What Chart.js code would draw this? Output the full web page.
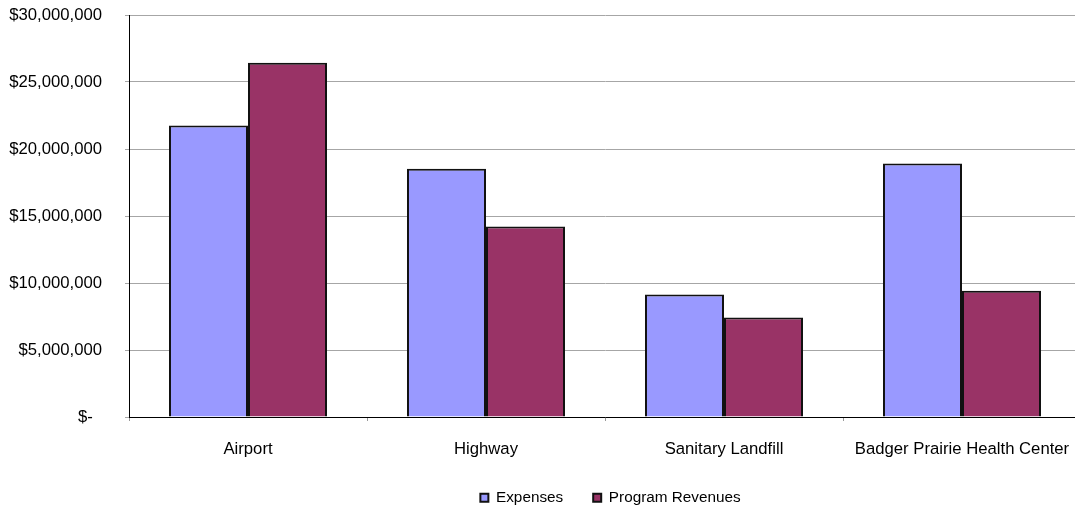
<!DOCTYPE html>
<html>
<head>
<meta charset="utf-8">
<script src="https://cdn.jsdelivr.net/npm/chart.js@4/dist/chart.umd.min.js"></script>
<style>
  html, body { margin: 0; padding: 0; background: #fff; overflow: hidden; }
  #wrap { width: 1081px; height: 510px; position: relative; }
  canvas { display: block; width: 1081px; height: 510px; }
</style>
</head>
<body>
<div id="wrap"><canvas id="c" width="1081" height="510"></canvas></div>
<script>
// Enterprise fund comparison: expenses vs. program revenues
const categories = ['Airport', 'Highway', 'Sanitary Landfill', 'Badger Prairie Health Center'];
const expenses = [21750000, 18530000, 9140000, 18910000];
const programRevenues = [26430000, 14220000, 7420000, 9420000];
const yTickLabels = ['$-  ', '$5,000,000', '$10,000,000', '$15,000,000', '$20,000,000', '$25,000,000', '$30,000,000'];

const FONT = "'Liberation Sans', Arial, Helvetica, sans-serif";

// Keep the legend band compact, center it under the plot area
const legendShift = {
  id: 'legendShift',
  beforeLayout(chart) {
    const lg = chart.legend;
    if (lg && !lg._compactFit) {
      const fit = lg.fit.bind(lg);
      lg.fit = function () { fit(); this.height = 43; };
      lg._compactFit = true;
    }
  },
  afterLayout(chart) {
    const lg = chart.legend;
    const dx = 70, dy = -5;
    lg.left += dx;
    lg.right += dx;
    lg.width = lg.right - lg.left;
    lg.top += dy;
    lg.bottom = chart.height;
    lg.height = lg.bottom - lg.top;
  }
};

new Chart(document.getElementById('c'), {
  type: 'bar',
  data: {
    labels: categories,
    datasets: [
      {
        label: 'Expenses',
        data: expenses,
        backgroundColor: '#9999FF',
        borderColor: '#111111',
        borderWidth: 2
      },
      {
        label: 'Program Revenues',
        data: programRevenues,
        backgroundColor: '#993366',
        borderColor: '#111111',
        borderWidth: 2
      }
    ]
  },
  options: {
    responsive: false,
    devicePixelRatio: 1,
    animation: false,
    layout: { padding: { top: 15, right: 0, bottom: 2, left: 0 } },
    datasets: { bar: { categoryPercentage: 0.664, barPercentage: 1.0 } },
    scales: {
      x: {
        offset: true,
        grid: {
          offset: true,
          drawOnChartArea: false,
          drawTicks: true,
          tickLength: 4,
          color: '#999999'
        },
        border: { display: true, color: '#000000', width: 1 },
        ticks: {
          padding: 18,
          color: '#000000',
          font: { family: FONT, size: 16.7 },
          maxRotation: 0,
          autoSkip: false
        },
        afterFit(scale) {
          scale.height = 48;
          scale.paddingLeft = 0;
          scale.paddingRight = 0;
        }
      },
      y: {
        min: 0,
        max: 30000000,
        grid: {
          color: '#A6A6A6',
          lineWidth: 1,
          tickLength: 4,
          drawTicks: true
        },
        border: { display: true, color: '#000000', width: 1 },
        ticks: {
          stepSize: 5000000,
          padding: 23,
          color: '#000000',
          font: { family: FONT, size: 16.7 },
          callback: (v, i) => yTickLabels[i]
        },
        afterFit(scale) {
          scale.width = 129;
          scale.paddingTop = 0;
          scale.paddingBottom = 0;
        }
      }
    },
    plugins: {
      legend: {
        position: 'bottom',
        labels: {
          boxWidth: 8,
          boxHeight: 8,
          padding: 30,
          color: '#000000',
          font: { family: FONT, size: 15.3 }
        }
      },
      tooltip: { enabled: false },
      title: { display: false }
    }
  },
  plugins: [legendShift]
});
</script>
</body>
</html>
